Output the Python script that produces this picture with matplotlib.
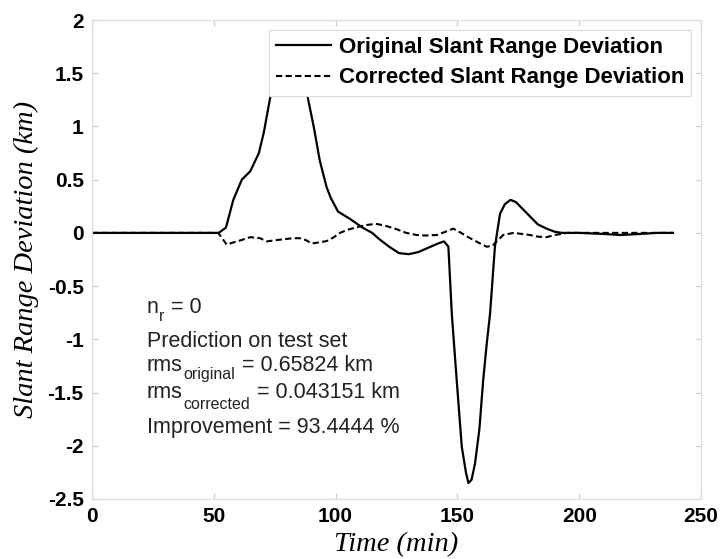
import matplotlib
matplotlib.use("Agg")
import matplotlib.pyplot as plt

plt.rcParams['font.family'] = ['Liberation Sans', 'DejaVu Sans']
plt.rcParams['axes.unicode_minus'] = False

# ---- data ----
t_orig = [0, 20, 40, 52, 55, 58, 61.5, 65, 68.5, 70.5, 72.5, 75, 78, 81, 84, 86.5,
          88.5, 91, 93.5, 96.3, 98, 101, 106, 111, 115, 118, 122, 126, 130, 134,
          138, 142, 144.5, 146.3, 147.7, 149.7, 151.8, 153.5, 154.5, 155.8, 157.2,
          159, 160.6, 162, 163.4, 165.4, 167.5, 169.5, 171.8, 174, 177, 180, 183,
          186.6, 190, 193, 200, 210, 217, 225, 232, 238.5]
v_orig = [0, 0, 0, 0, 0.05, 0.31, 0.5, 0.58, 0.75, 0.94, 1.19, 1.5, 1.75, 1.85,
          1.75, 1.5, 1.28, 1.0, 0.68, 0.43, 0.33, 0.2, 0.13, 0.05, 0.0, -0.06,
          -0.13, -0.19, -0.2, -0.18, -0.14, -0.1, -0.08, -0.13, -0.76, -1.38,
          -2.01, -2.25, -2.35, -2.32, -2.17, -1.85, -1.38, -1.05, -0.76, -0.13,
          0.18, 0.27, 0.31, 0.29, 0.22, 0.15, 0.08, 0.04, 0.01, 0.0, 0.0, -0.01,
          -0.02, -0.01, 0.0, 0.0]

t_corr = [0, 20, 40, 51.8, 55.3, 58, 61, 65, 69, 71.7, 75, 78.5, 82.6, 85.4, 88,
          90.2, 93, 96.3, 99, 101.8, 105, 110, 113, 116.5, 120, 125, 129, 133.3,
          137, 141.5, 145, 148.3, 151.5, 155.2, 158.5, 162, 164.5, 166.1, 168.8,
          173, 176.5, 179.8, 183, 186.6, 190, 195, 205, 215, 225, 238.5]
v_corr = [0, 0, 0, 0, -0.11, -0.09, -0.07, -0.04, -0.05, -0.08, -0.07, -0.06,
          -0.05, -0.05, -0.07, -0.10, -0.09, -0.077, -0.045, 0.0, 0.03, 0.06,
          0.075, 0.085, 0.07, 0.035, 0.0, -0.02, -0.025, -0.02, 0.01, 0.04, 0.0,
          -0.05, -0.09, -0.13, -0.12, -0.08, -0.02, 0.0, -0.01, -0.02, -0.035,
          -0.04, -0.02, 0.0, 0.0, 0.0, 0.0, 0.0]

x_ticks = [0, 50, 100, 150, 200, 250]
x_tick_labels = ['0', '50', '100', '150', '200', '250']
y_ticks = [-2.5, -2, -1.5, -1, -0.5, 0, 0.5, 1, 1.5, 2]
y_tick_labels = ['-2.5', '-2', '-1.5', '-1', '-0.5', '0', '0.5', '1', '1.5', '2']

series_labels = ['Original Slant Range Deviation', 'Corrected Slant Range Deviation']
# annotation lines: (main text, subscript, rest)
info_main = ['n', 'Prediction on test set', 'rms', 'rms', 'Improvement = 93.4444 %']
info_sub = ['r', '', 'original', 'corrected', '']
info_rest = [' = 0', '', ' = 0.65824 km', ' = 0.043151 km', '']

# ---- figure ----
fig = plt.figure(figsize=(7.2, 5.59), dpi=100)
ax = fig.add_axes([92/720, 60/559, 609/720, 479/559])

ax.plot(t_orig, v_orig, color='black', lw=1.6, label=series_labels[0])
ax.plot(t_corr, v_corr, color='black', lw=1.5, linestyle=(0, (3, 1.6)),
        label=series_labels[1])

ax.set_xlim(0, 250)
ax.set_ylim(-2.5, 2)
ax.set_xticks(x_ticks)
ax.set_xticklabels(x_tick_labels)
ax.set_yticks(y_ticks)
ax.set_yticklabels(y_tick_labels)

grey = '#dcdcdc'
for s in ax.spines.values():
    s.set_color(grey)
    s.set_linewidth(0.9)
ax.tick_params(direction='in', top=True, right=True, length=4, width=0.9,
               color='#d0d0d0', labelsize=15, pad=6)
for lab in ax.get_xticklabels() + ax.get_yticklabels():
    lab.set_fontweight('bold')

ax.set_xlabel('Time (min)', family='Liberation Serif', style='italic',
              fontsize=20.5, labelpad=4)
ax.set_ylabel('Slant Range Deviation (km)', family='Liberation Serif',
              style='italic', fontsize=20.5, labelpad=6)

leg = ax.legend(loc='upper right', prop={'weight': 'bold', 'size': 16},
                frameon=True, fancybox=False, edgecolor=grey, framealpha=1,
                handlelength=2.45, handletextpad=0.35, borderpad=0.32,
                labelspacing=0.42, borderaxespad=0.45)
leg.get_frame().set_linewidth(0.9)

y_pos = [0.3877, 0.318, 0.2678, 0.2102, 0.1372]
sub_drop = [4.0, 0, 4.5, 6.0, 0]
txt_color = '#222222'
for main, sub, rest, yp, drop in zip(info_main, info_sub, info_rest, y_pos, sub_drop):
    t1 = ax.text(0.0903, yp, main, transform=ax.transAxes, fontsize=15.5,
                 va='baseline', ha='left', color=txt_color)
    if sub:
        t2 = ax.annotate(sub, xy=(1, 0), xycoords=t1, xytext=(0.3, -drop),
                         textcoords='offset points', fontsize=11.5,
                         va='bottom', ha='left', color=txt_color)
        ax.annotate(rest, xy=(1, 0), xycoords=t2, xytext=(0.5, drop),
                    textcoords='offset points', fontsize=15.5,
                    va='bottom', ha='left', color=txt_color)

fig.savefig('out.png', dpi=100)
